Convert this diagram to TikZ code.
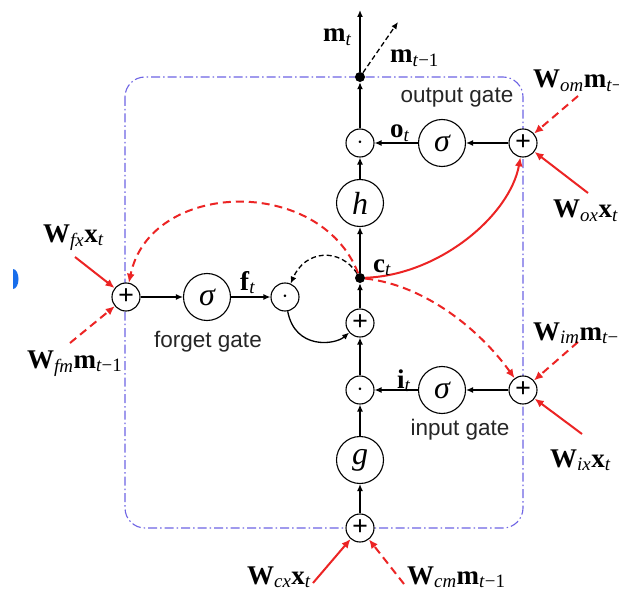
\documentclass[tikz,border=0pt]{standalone}
\usepackage{fontspec}
\setmainfont{Liberation Serif}
\newfontfamily\gatefont{Liberation Sans}
\usetikzlibrary{arrows.meta}
\definecolor{lred}{RGB}{236,36,36}
\definecolor{boxblue}{RGB}{110,100,228}
\definecolor{dotblue}{RGB}{25,110,235}
\newcommand{\vlab}[4]{\textbf{#1}\textsubscript{\textit{#2}}\textbf{#3}\textsubscript{#4}}
\newcommand{\slab}[2]{\textbf{#1}\textsubscript{#2}}
\begin{document}
\begin{tikzpicture}[x=1pt,y=-1pt,
  sm/.style={circle,draw,fill=white,line width=1.1pt,minimum size=28pt,inner sep=0pt,font=\fontsize{28}{28}\selectfont\bfseries},
  bg/.style={circle,draw,fill=white,line width=1.1pt,minimum size=47pt,inner sep=0pt,font=\fontsize{32}{32}\selectfont\itshape},
  dotn/.style={circle,fill=black,minimum size=10pt,inner sep=0pt},
  arr/.style={line width=1.3pt,-{Latex[length=7pt,width=6pt]}},
  rarr/.style={lred,line width=2pt,-{Latex[length=9pt,width=8pt]}},
  rdash/.style={rarr,dash pattern=on 8pt off 5pt},
  lab/.style={font=\fontsize{27}{30}\selectfont,inner sep=0pt,anchor=base west},
  gate/.style={font=\gatefont\fontsize{22.5}{24}\selectfont,inner sep=0pt,text=black!85}]
\useasboundingbox (0,0) rectangle (619,591);
\fill[white] (0,0) rectangle (619,591);
\fill[dotblue] (13,289) arc (90:-90:5.5 and 10) -- cycle;
% dash-dot box
\draw[boxblue,line width=1.1pt,dash pattern=on 9pt off 3pt on 1.5pt off 3pt,rounded corners=20pt] (125,77) rectangle (523,528);
% nodes
\node[sm] (pc) at (360,528) {+};
\node[bg] (g) at (360,460) {g};
\node[sm] (di) at (360,390) {$\cdot$};
\node[sm] (pcell) at (360,323) {+};
\node[dotn] (ct) at (360,278) {};
\node[bg] (h) at (360,203) {h};
\node[sm] (do) at (360,143) {$\cdot$};
\node[dotn] (mt) at (360,77) {};
\coordinate (top) at (360,10);
\coordinate (mtm) at (398,22);
\node[bg] (so) at (442,143) {σ};
\node[sm] (po) at (523,143) {+};
\node[bg] (si) at (442,390) {σ};
\node[sm] (pi) at (523,390) {+};
\node[sm] (pf) at (126,297) {+};
\node[bg] (sf) at (207,297) {σ};
\node[sm] (df) at (285,297) {$\cdot$};
% vertical chain
\draw[arr] (pc) -- (g);
\draw[arr] (g) -- (di);
\draw[arr] (di) -- (pcell);
\draw[arr] (pcell) -- (ct);
\draw[arr] (ct) -- (h);
\draw[arr] (h) -- (do);
\draw[arr] (do) -- (mt);
\draw[arr] (mt) -- (top);
\draw[arr,dash pattern=on 5pt off 3pt] (mt) -- (mtm);
% horizontal
\draw[arr] (po) -- (so);
\draw[arr] (so) -- (do);
\draw[arr] (pi) -- (si);
\draw[arr] (si) -- (di);
\draw[arr] (pf) -- (sf);
\draw[arr] (sf) -- (df);
% loops
\draw[arr,dash pattern=on 5pt off 3pt] (ct) .. controls (340,247) and (305,250) .. (df);
\draw[arr] (df) .. controls (295,350) and (335,345) .. (pcell);
% red curves
\draw[rdash] (ct) .. controls (320,175) and (150,180) .. (pf);
\draw[rarr] (ct) .. controls (440,275) and (510,215) .. (po);
\draw[rdash] (ct) .. controls (425,285) and (480,330) .. (pi);
% red inputs
\coordinate (a1) at (578,96);
\coordinate (a2) at (588,193);
\coordinate (a3) at (578,342);
\coordinate (a4) at (582,434);
\coordinate (a5) at (75,257);
\coordinate (a6) at (70,343);
\coordinate (a7) at (313,583);
\coordinate (a8) at (404,584);
\draw[rdash] (a1) -- (po);
\draw[rarr] (a2) -- (po);
\draw[rdash] (a3) -- (pi);
\draw[rarr] (a4) -- (pi);
\draw[rarr] (a5) -- (pf);
\draw[rdash] (a6) -- (pf);
\draw[rarr] (a7) -- (pc);
\draw[rdash] (a8) -- (pc);
% labels
\node[lab] (lmt) at (323,42) {\slab{m}{\textit{t}}};
\node[lab] (lmt1) at (390,63) {\slab{m}{\textit{t}−1}};
\node[lab] (lot) at (390,138) {\slab{o}{\textit{t}}};
\node[lab] (lit) at (397,388) {\slab{i}{\textit{t}}};
\node[lab] (lct) at (373,272) {\slab{c}{\textit{t}}};
\node[lab] (lft) at (240,290) {\slab{f}{\textit{t}}};
\node[lab] (lwfx) at (43,242) {\vlab{W}{fx}{x}{\textit{t}}};
\node[lab] (lwfm) at (27,368) {\vlab{W}{fm}{m}{\textit{t}−1}};
\node[lab] (lwom) at (533,88) {\vlab{W}{om}{m}{\textit{t}−1}};
\node[lab] (lwox) at (553,218) {\vlab{W}{ox}{x}{\textit{t}}};
\node[lab] (lwim) at (533,340) {\vlab{W}{im}{m}{\textit{t}−1}};
\node[lab] (lwix) at (550,467) {\vlab{W}{ix}{x}{\textit{t}}};
\node[lab] (lwcx) at (247,584) {\vlab{W}{cx}{x}{\textit{t}}};
\node[lab] (lwcm) at (407,584) {\vlab{W}{cm}{m}{\textit{t}−1}};
\node[gate] (gout) at (457,98) {output gate};
\node[gate] (gfor) at (208,342) {forget gate};
\node[gate] (gin) at (460,430) {input gate};
\end{tikzpicture}
\end{document}
